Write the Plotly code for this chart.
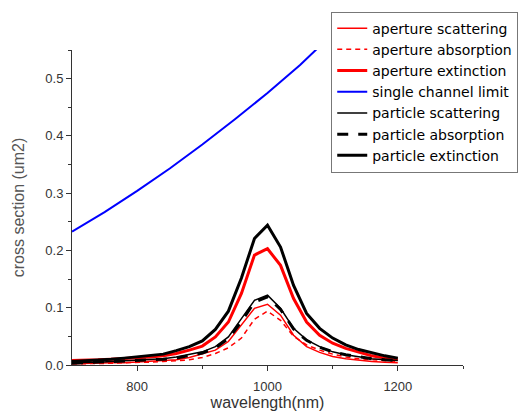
import plotly.graph_objects as go

wl = [700, 720, 740, 760, 780, 800, 820, 840, 860, 880, 900, 920, 940, 960, 980,
      1000, 1020, 1040, 1060, 1080, 1100, 1120, 1140, 1160, 1180, 1200]

aperture_scattering = [0.002, 0.003, 0.003, 0.004, 0.004, 0.005, 0.006, 0.007, 0.009, 0.013,
                       0.019, 0.026, 0.041, 0.070, 0.099, 0.106, 0.087, 0.052, 0.032, 0.022,
                       0.015, 0.011, 0.008, 0.006, 0.005, 0.004]
aperture_absorption = [0.002, 0.002, 0.003, 0.003, 0.004, 0.004, 0.005, 0.006, 0.007, 0.009,
                       0.013, 0.020, 0.030, 0.047, 0.080, 0.094, 0.078, 0.050, 0.035, 0.026,
                       0.019, 0.014, 0.011, 0.009, 0.007, 0.006]
aperture_extinction = [0.008, 0.008, 0.009, 0.010, 0.011, 0.012, 0.014, 0.016, 0.020, 0.026,
                       0.033, 0.049, 0.075, 0.125, 0.192, 0.203, 0.174, 0.116, 0.075, 0.052,
                       0.038, 0.029, 0.022, 0.016, 0.012, 0.009]
particle_scattering = [0.004, 0.004, 0.005, 0.006, 0.007, 0.008, 0.009, 0.011, 0.014, 0.018,
                       0.023, 0.032, 0.049, 0.081, 0.113, 0.122, 0.099, 0.064, 0.044, 0.032,
                       0.023, 0.018, 0.014, 0.011, 0.009, 0.008]
particle_absorption = [0.003, 0.004, 0.004, 0.005, 0.006, 0.007, 0.008, 0.010, 0.012, 0.016,
                       0.021, 0.030, 0.046, 0.076, 0.110, 0.119, 0.097, 0.063, 0.043, 0.031,
                       0.023, 0.018, 0.014, 0.011, 0.009, 0.008]
particle_extinction = [0.006, 0.007, 0.008, 0.010, 0.012, 0.014, 0.016, 0.019, 0.025, 0.032,
                       0.042, 0.062, 0.094, 0.152, 0.221, 0.244, 0.206, 0.139, 0.090, 0.064,
                       0.047, 0.035, 0.027, 0.021, 0.016, 0.012]

wl_limit = [700, 750, 800, 850, 900, 950, 1000, 1050, 1100]
single_channel_limit = [0.233, 0.267, 0.304, 0.343, 0.385, 0.429, 0.475, 0.524, 0.578]

fig = go.Figure()
fig.add_trace(go.Scatter(x=wl, y=aperture_scattering, mode="lines", name="aperture scattering",
                         line=dict(color="#ff0000", width=1.5)))
fig.add_trace(go.Scatter(x=wl, y=aperture_absorption, mode="lines", name="aperture absorption",
                         line=dict(color="#ff0000", width=1.5, dash="5px,4px")))
fig.add_trace(go.Scatter(x=wl, y=aperture_extinction, mode="lines", name="aperture extinction",
                         line=dict(color="#ff0000", width=3)))
fig.add_trace(go.Scatter(x=wl_limit, y=single_channel_limit, mode="lines", name="single channel limit",
                         line=dict(color="#0000ff", width=2)))
fig.add_trace(go.Scatter(x=wl, y=particle_scattering, mode="lines", name="particle scattering",
                         line=dict(color="#000000", width=1.5)))
fig.add_trace(go.Scatter(x=wl, y=particle_absorption, mode="lines", name="particle absorption",
                         line=dict(color="#000000", width=3, dash="11px,10px")))
fig.add_trace(go.Scatter(x=wl, y=particle_extinction, mode="lines", name="particle extinction",
                         line=dict(color="#000000", width=3)))

fig.update_layout(
    width=518, height=416,
    margin=dict(l=72, r=55, t=50, b=51, autoexpand=False),
    paper_bgcolor="white", plot_bgcolor="white",
    font=dict(family="Liberation Sans, Arial, sans-serif", size=13, color="#333333"),
    legend=dict(x=0.663, y=1.122, xanchor="left", yanchor="top",
                bgcolor="white", bordercolor="#777777", borderwidth=1,
                font=dict(family="DejaVu Sans", size=14, color="#000000"), tracegroupgap=0,
                itemwidth=30),
    showlegend=True,
)
fig.update_xaxes(
    range=[700, 1300], tickvals=[800, 1000, 1200], ticktext=["800", "1000", "1200"],
    ticks="outside", ticklen=5, tickcolor="#333333", ticklabelstandoff=4,
    minor=dict(tickvals=[900, 1100, 1300], ticks="outside", ticklen=3, tickcolor="#333333"),
    showline=True, linecolor="#333333", linewidth=1, showgrid=False, zeroline=False,
    title=dict(text="wavelength(nm)", font=dict(size=16, color="#333333"), standoff=1),
)
fig.update_yaxes(
    range=[0, 0.55], tickvals=[0, 0.1, 0.2, 0.3, 0.4, 0.5],
    ticktext=["0.0", "0.1", "0.2", "0.3", "0.4", "0.5"],
    ticks="outside", ticklen=5, tickcolor="#333333",
    minor=dict(tickvals=[0.05, 0.15, 0.25, 0.35, 0.45, 0.55], ticks="outside", ticklen=3, tickcolor="#333333"),
    showline=True, linecolor="#333333", linewidth=1, showgrid=False, zeroline=False,
    title=dict(text="cross section (um2)", font=dict(size=16, color="#555555"), standoff=16),
)

fig.write_html("out.html")
